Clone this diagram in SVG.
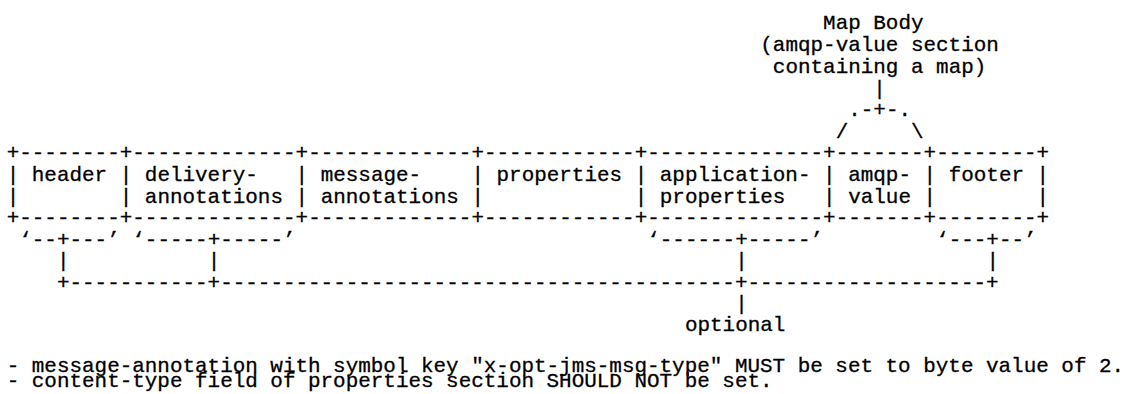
<svg xmlns="http://www.w3.org/2000/svg" width="1124" height="394" viewBox="0 0 1124 394" xml:space="preserve">
<style>
text { font-family: "Liberation Mono", "DejaVu Sans Mono", monospace; font-size: 20.93px; fill: #000; stroke: #000; stroke-width: 0.3px; white-space: pre; }
</style>
<rect x="0" y="0" width="1124" height="394" fill="#fff"/>
<g id="map-body-label">
<text x="823.10" y="29">Map Body</text>
<text x="760.30" y="51">(amqp-value section</text>
<text x="772.86" y="73">containing a map)</text>
</g>
<g id="header">
<text x="6.70" y="159">+--------</text>
<text x="6.70" y="180.5">| header</text>
<text x="6.70" y="202.5">|</text>
<text x="6.70" y="224">+--------</text>
</g>
<g id="delivery-annotations">
<text x="119.74" y="159">+-------------</text>
<text x="119.74" y="180.5">| delivery-</text>
<text x="119.74" y="202.5">| annotations</text>
<text x="119.74" y="224">+-------------</text>
</g>
<g id="message-annotations">
<text x="295.58" y="159">+-------------</text>
<text x="295.58" y="180.5">| message-</text>
<text x="295.58" y="202.5">| annotations</text>
<text x="295.58" y="224">+-------------</text>
</g>
<g id="properties">
<text x="471.42" y="159">+------------</text>
<text x="471.42" y="180.5">| properties</text>
<text x="471.42" y="202.5">|</text>
<text x="471.42" y="224">+------------</text>
</g>
<g id="application-properties">
<text x="634.70" y="159">+--------------</text>
<text x="634.70" y="180.5">| application-</text>
<text x="634.70" y="202.5">| properties</text>
<text x="634.70" y="224">+--------------</text>
</g>
<g id="amqp-value">
<text x="823.10" y="159">+-------</text>
<text x="823.10" y="180.5">| amqp-</text>
<text x="823.10" y="202.5">| value</text>
<text x="823.10" y="224">+-------</text>
</g>
<g id="footer">
<text x="923.58" y="159">+--------+</text>
<text x="923.58" y="180.5">| footer |</text>
<text x="923.58" y="202.5">|        |</text>
<text x="923.58" y="224">+--------+</text>
</g>
<g id="connectors">
<text x="873.34" y="94.5">|</text>
<text x="848.22" y="116">.-+-.</text>
<text x="835.66" y="137.5">/     \</text>
<text x="19.26" y="245.5">‘--+---’</text>
<text x="132.30" y="245.5">‘-----+-----’</text>
<text x="647.26" y="245.5">‘------+-----’</text>
<text x="936.14" y="245.5">‘---+--’</text>
<text x="56.94" y="267">|</text>
<text x="207.66" y="267">|</text>
<text x="735.18" y="267">|</text>
<text x="986.38" y="267">|</text>
<text x="56.94" y="288.5">+-----------+-----------------------------------------+-------------------+</text>
<text x="735.18" y="309.5">|</text>
</g>
<g id="optional-label">
<text x="684.94" y="330.5">optional</text>
</g>
<g id="notes">
<text x="6.70" y="372">- message-annotation with symbol key "x-opt-jms-msg-type" MUST be set to byte value of 2.</text>
<text x="6.70" y="387">- content-type field of properties section SHOULD NOT be set.</text>
</g>
</svg>
